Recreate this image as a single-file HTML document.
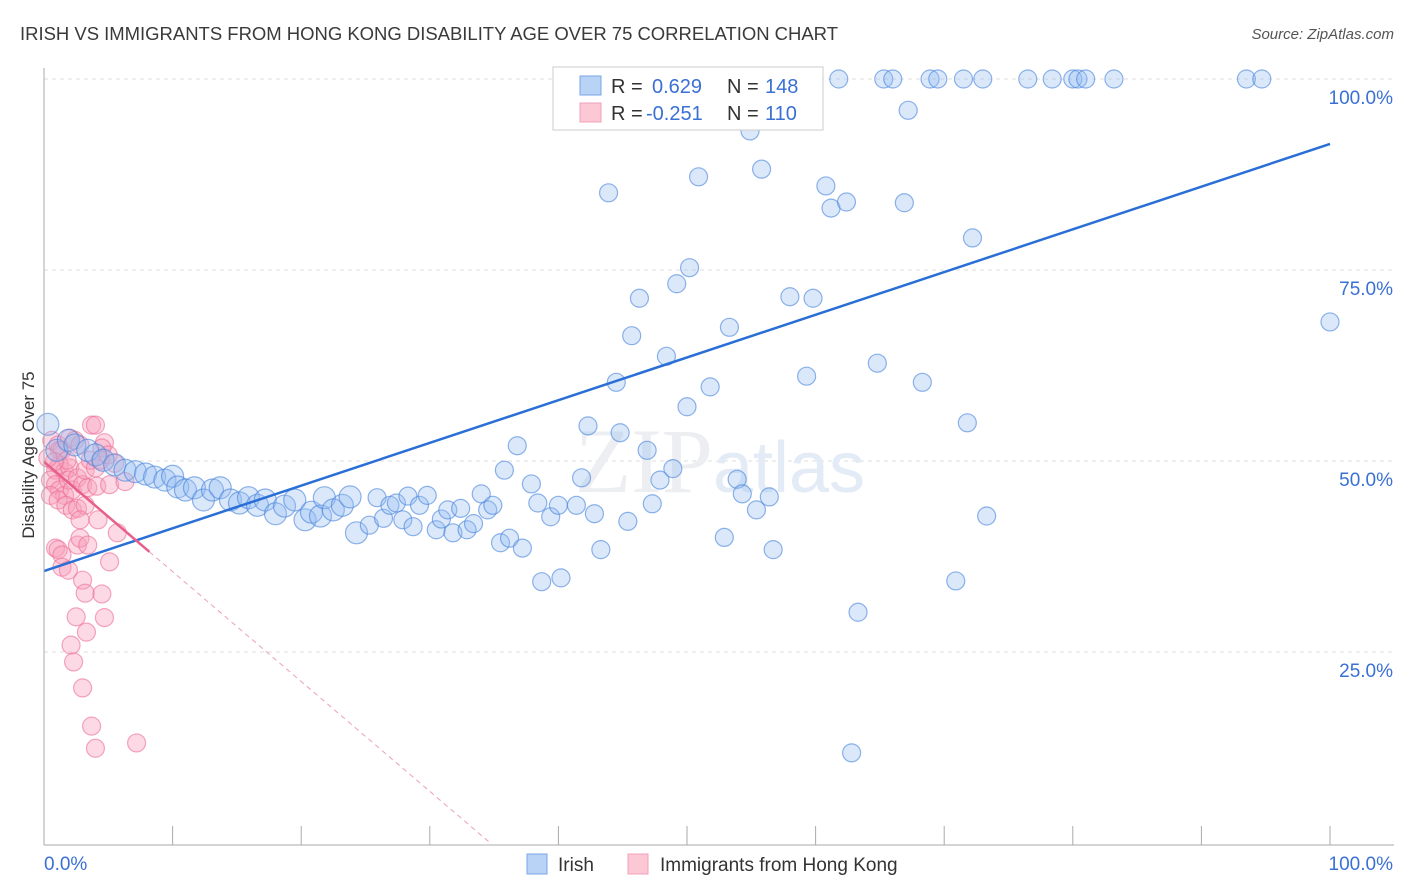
<!DOCTYPE html>
<html><head><meta charset="utf-8"><style>
body{margin:0;background:#fff;font-family:"Liberation Sans",sans-serif;}
svg{display:block}
</style></head><body>
<svg id="chart" width="1406" height="892" xmlns="http://www.w3.org/2000/svg">
<text x="20" y="40" font-size="18.5" fill="#3a3a3a" font-family="Liberation Sans, sans-serif" textLength="818">IRISH VS IMMIGRANTS FROM HONG KONG DISABILITY AGE OVER 75 CORRELATION CHART</text>
<text x="1394" y="39" font-size="15" fill="#555" text-anchor="end" font-style="italic">Source: ZipAtlas.com</text>
<g id="grid"></g>
<text x="720" y="492" font-size="92" fill="#eceef2" text-anchor="middle" font-family="Liberation Serif, serif">ZIP<tspan fill="#e3ebf6" font-family="Liberation Sans, sans-serif" font-size="72">atlas</tspan></text>
<g id="pink"></g>
<g id="blue"></g>
<g id="trends"></g>
<g id="axes"></g>
<text transform="translate(34,455) rotate(-90)" font-size="17" fill="#333" text-anchor="middle">Disability Age Over 75</text>
<g>
<rect x="553" y="67" width="270" height="63" fill="#fff" stroke="#ccc"/>
<rect x="580" y="76" width="21" height="19" fill="#b8d3f5" stroke="#7aa6e6"/>
<rect x="580" y="103" width="21" height="19" fill="#fcc8d6" stroke="#f0a0b8"/>
<text x="611" y="93" font-size="20" fill="#333">R = </text><text x="652" y="93" font-size="20" fill="#3a70d4">0.629</text>
<text x="727" y="93" font-size="20" fill="#333">N = </text><text x="765" y="93" font-size="20" fill="#3a70d4">148</text>
<text x="611" y="120" font-size="20" fill="#333">R = </text><text x="646" y="120" font-size="20" fill="#3a70d4">-0.251</text>
<text x="727" y="120" font-size="20" fill="#333">N = </text><text x="765" y="120" font-size="20" fill="#3a70d4">110</text>
</g>
<g>
<rect x="527" y="854" width="20" height="20" fill="#b8d3f5" stroke="#7aa6e6"/>
<text x="558" y="871" font-size="19" fill="#333">Irish</text>
<rect x="628" y="854" width="20" height="20" fill="#fcc8d6" stroke="#f0a0b8"/>
<text x="660" y="871" font-size="19" fill="#333">Immigrants from Hong Kong</text>
</g>
</svg>
<script>
const yTicks=[25,50,75,100];
const yTickLabels=["25.0%","50.0%","75.0%","100.0%"];
const xTicks=[0,10,20,30,40,50,60,70,80,90,100];
const blueX=[0.3,1,1.9,2.4,3.4,4,4.6,5.5,6.3,7.1,7.9,8.6,9.4,10,10.4,11,11.7,12.4,13.1,13.7,14.5,15.2,15.9,16.6,17.2,18,18.7,19.5,20.3,20.8,21.5,21.8,22.5,23.2,23.8,24.3,25.3,25.9,26.4,26.9,27.4,27.9,28.3,28.7,29.2,29.8,30.5,30.9,31.4,31.8,32.4,32.9,33.4,34,34.5,34.9,35.5,35.8,36.2,36.8,37.2,37.9,38.4,38.7,39.4,40,40.2,41.4,41.8,42.3,42.8,43.3,43.9,44.5,44.8,45.4,45.7,46.3,46.9,47.3,47.9,48.4,48.9,49.2,50,50.2,50.9,51.8,52.3,52.9,53.3,53.9,54.3,54.9,55.4,55.8,56.4,56.7,58,59.3,59.8,60.8,61.2,61.8,62.4,62.8,63.3,64.8,65.3,66,66.9,67.2,68.3,68.9,69.5,70.9,71.5,71.8,72.2,73,73.3,76.5,78.4,80,80.4,81,83.2,93.5,94.7,100];
const blueY=[54.8,51.4,52.7,52.1,51.4,50.8,50.1,49.5,48.8,48.6,48.3,47.9,47.5,48,46.6,46.2,46.5,44.9,46.2,46.5,44.9,44.5,45.2,44.2,44.9,43.1,44.1,44.9,42.3,43.3,42.8,45.2,43.6,44.2,45.3,40.6,41.6,45.2,42.5,44.2,44.5,42.3,45.4,41.4,44.2,45.5,41,42.4,43.6,40.6,43.8,41,41.8,45.7,43.6,44.2,39.3,48.8,39.9,52,38.6,47,44.5,34.2,42.7,44.2,34.7,44.2,47.8,54.6,43.1,38.4,85.1,60.3,53.7,42.1,66.4,71.3,51.4,44.4,47.5,63.7,49,73.2,57.1,75.3,87.2,59.7,99.9,40,67.5,47.6,45.7,93.2,43.6,88.2,45.3,38.4,71.5,61.1,71.3,86,83.1,100,83.9,11.8,30.2,62.8,100,100,83.8,95.9,60.3,100,100,34.3,100,55,79.2,100,42.8,100,100,100,100,100,100,100,100,68.2];
const pinkX=[0.6,1.1,1.4,2.0,2.4,2.8,3.7,4.0,4.7,4.5,0.9,1.2,1.6,2.0,0.5,0.9,1.2,1.6,0.5,1.1,1.9,2.2,2.6,3.0,3.2,3.6,4.0,4.4,5.0,3.4,4.1,5.1,6.3,1.7,2.2,2.6,3.2,2.8,4.2,5.5,0.9,1.1,1.4,2.6,2.8,3.4,5.7,5.1,1.4,1.9,3.0,4.5,3.2,2.5,4.7,3.3,2.1,2.3,3.0,3.7,4.0,7.2,1.2,1.8,0.8,0.3];
const pinkY=[52.7,52.1,51.4,53.0,52.7,52.1,54.7,54.7,52.4,51.7,48.8,49.5,48.6,49.1,47.5,46.9,46.2,45.5,45.5,44.9,47.5,46.2,47.8,46.9,48.8,50.1,49.1,50.1,50.8,46.5,46.7,46.9,47.3,44.2,43.6,43.8,44.2,42.3,42.3,49.7,38.6,38.4,37.7,39.0,39.9,39.0,40.6,36.8,36.1,35.7,34.4,32.6,32.7,29.6,29.5,27.6,25.9,23.7,20.3,15.3,12.4,13.1,51.4,50.1,49.9,50.4];
const blueTrend=[35.6,91.5];
const pinkTrend=[49.9,34.7];
const NS="http://www.w3.org/2000/svg";
const X0=44,X1=1330,Y0=843,Y1=79;
function sx(v){return X0+(X1-X0)*v/100;}
function sy(v){return Y0-(Y0-Y1)*v/100;}
function mk(t,a,p){const e=document.createElementNS(NS,t);for(const k in a)e.setAttribute(k,a[k]);p.appendChild(e);return e;}
const grid=document.getElementById('grid'),axes=document.getElementById('axes');
yTicks.forEach((t,i)=>{
 const l=mk('line',{x1:X0,x2:1394,y1:sy(t),y2:sy(t),stroke:'#ddd','stroke-dasharray':'4,4'},grid);
 
 
 const tx=mk('text',{x:1393,y:sy(t)+25,'font-size':19,fill:'#3a70d4','text-anchor':'end'},axes);
 tx.textContent=yTickLabels[i];
 
 
});
const ax=mk('line',{x1:X0,x2:X0,y1:68,y2:845,stroke:'#aaa'},axes);


const bx=mk('line',{x1:X0,x2:1394,y1:845,y2:845,stroke:'#aaa'},axes);


xTicks.forEach(t=>{
 const l=mk('line',{x1:sx(t),x2:sx(t),y1:826,y2:845,stroke:'#aaa'},axes);
 
 
});
const xl0=mk('text',{x:44,y:870,'font-size':19,fill:'#3a70d4'},axes);xl0.textContent='0.0%';


const xl1=mk('text',{x:1393,y:870,'font-size':19,fill:'#3a70d4','text-anchor':'end'},axes);xl1.textContent='100.0%';


const pg=document.getElementById('pink');
pinkX.forEach((x,i)=>{
 const c=mk('circle',{cx:sx(x),cy:sy(pinkY[i]),r:9,fill:'rgba(248,160,188,0.4)',stroke:'rgba(236,110,150,0.6)','stroke-width':1.2},pg);
 
 
});
const bg=document.getElementById('blue');
blueX.forEach((x,i)=>{
 const c=mk('circle',{cx:sx(x),cy:sy(blueY[i]),r:x<25?11:9,fill:'rgba(150,190,240,0.35)',stroke:'rgba(70,130,220,0.6)','stroke-width':1.2},bg);
 
 
});
const tg=document.getElementById('trends');
const bl=mk('line',{x1:sx(0),y1:sy(blueTrend[0]),x2:sx(100),y2:sy(blueTrend[1]),stroke:'#2a6fd6','stroke-width':2.5},tg);


const pEnd=8.2, pYend=pinkTrend[0]*(1-pEnd/pinkTrend[1]);
const pl=mk('line',{x1:sx(0),y1:sy(pinkTrend[0]),x2:sx(pEnd),y2:sy(pYend),stroke:'#e8608a','stroke-width':2.5},tg);


const pd=mk('line',{x1:sx(pEnd),y1:sy(pYend),x2:sx(pinkTrend[1]),y2:sy(0),stroke:'#eaa0b8','stroke-width':1,'stroke-dasharray':'5,4'},tg);


</script>
</body></html>
